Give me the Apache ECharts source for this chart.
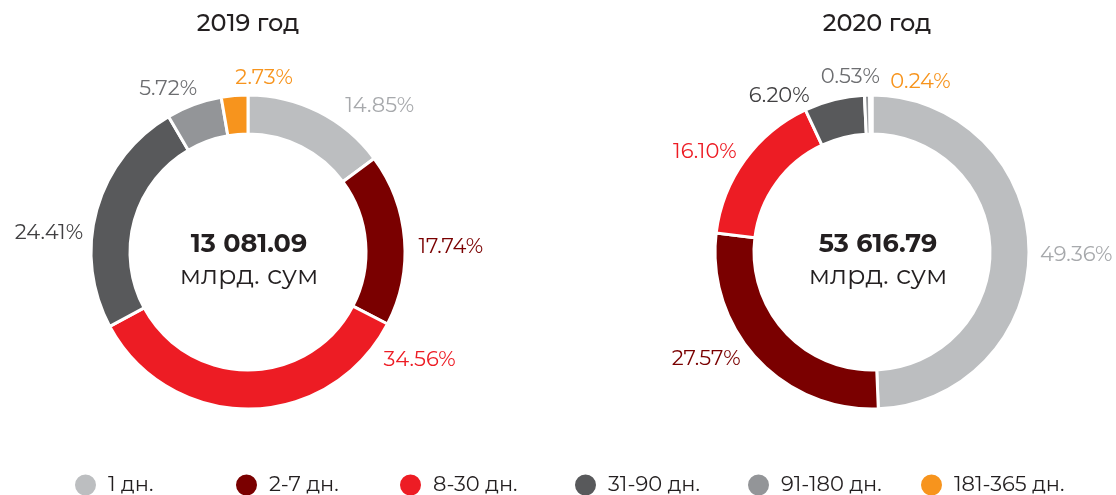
<!DOCTYPE html>
<html>
<head>
<meta charset="utf-8">
<script src="https://cdn.jsdelivr.net/npm/echarts@6/dist/echarts.min.js"></script>
<style>
  html, body { margin: 0; padding: 0; background: #fff; }
  #chart { width: 1116px; height: 495px; }
</style>
</head>
<body>
<div id="chart"></div>
<script>
// категории сроков
const categories = ['1 дн.', '2-7 дн.', '8-30 дн.', '31-90 дн.', '91-180 дн.', '181-365 дн.']
const share2019 = [14.85, 17.74, 34.56, 24.41, 5.72, 2.73]
const share2020 = [49.36, 27.57, 16.10, 6.20, 0.53, 0.24]
const total2019 = '13 081.09'
const total2020 = '53 616.79'
const years = ['2019 год', '2020 год']

const sliceColors = ['#bcbec0', '#7a0000', '#ed1c24', '#58595b', '#939598', '#f7941d']
const labelColors = ['#a7a9ac', '#7a0000', '#ed1c24', '#414042', '#6d6e71', '#f7941d']
const font = 'Montserrat, "Open Sans", sans-serif'

// сдвиг подписей процентов, как в макете
const labelNudge = [
    [[14, 1], [-3, 8], [125, -57], [-2, 25], [39, -22], [68, -10]],
    [[-6, 6], [-1, -5], [3, -4], [56, -37], [96, -33], [89, -5]]
]
// начало каждого пункта легенды
const legendLeft = [73, 234, 398, 573, 746, 919]

const chart = echarts.init(document.getElementById('chart'))

const centers = [248, 872]
const textCenters = [244, 873]
const makeSeries = (vals, idx) => ({
    type: 'pie',
    name: years[idx],
    center: [centers[idx], 252],
    radius: [118, 157],
    startAngle: 90,
    clockwise: true,
    avoidLabelOverlap: true,
    itemStyle: { borderColor: '#fff', borderWidth: 3 },
    label: {
        show: true,
        position: 'outside',
        fontFamily: font,
        fontSize: 21,
        width: 90,
        formatter: p => p.value.toFixed(2) + '%'
    },
    labelLine: { show: false, length: 8, length2: 4 },
    labelLayout: p => {
        const n = labelNudge[p.seriesIndex][p.dataIndex]
        return { dx: n[0], dy: n[1] }
    },
    emphasis: { disabled: true },
    data: vals.map((v, i) => ({
        name: categories[i],
        value: v,
        itemStyle: { color: sliceColors[i] },
        label: { color: labelColors[i] }
    }))
})

const titles = []
years.forEach((y, i) => {
    titles.push({
        text: y, left: textCenters[i] - 1, top: 7, textAlign: 'center',
        textStyle: { fontFamily: font, fontSize: 24, fontWeight: 500, color: '#231f20' }
    })
})
;[total2019, total2020].forEach((t, i) => {
    titles.push({
        text: t, subtext: 'млрд. сум', left: textCenters[i], top: 226, textAlign: 'center', itemGap: 6,
        textStyle: { fontFamily: font, fontSize: 25.5, fontWeight: 'bold', color: '#231f20' },
        subtextStyle: { fontFamily: font, fontSize: 27, color: '#231f20' }
    })
})

const legends = categories.map((c, i) => ({
    top: 472,
    left: legendLeft[i],
    padding: 0,
    icon: 'circle',
    itemWidth: 23,
    itemHeight: 23,
    textStyle: { fontFamily: font, fontSize: 21, lineHeight: 26, color: '#231f20', padding: [0, 0, 0, 6] },
    data: [c]
}))

chart.setOption({
    animation: false,
    title: titles,
    legend: legends,
    series: [makeSeries(share2019, 0), makeSeries(share2020, 1)]
})
</script>
</body>
</html>
